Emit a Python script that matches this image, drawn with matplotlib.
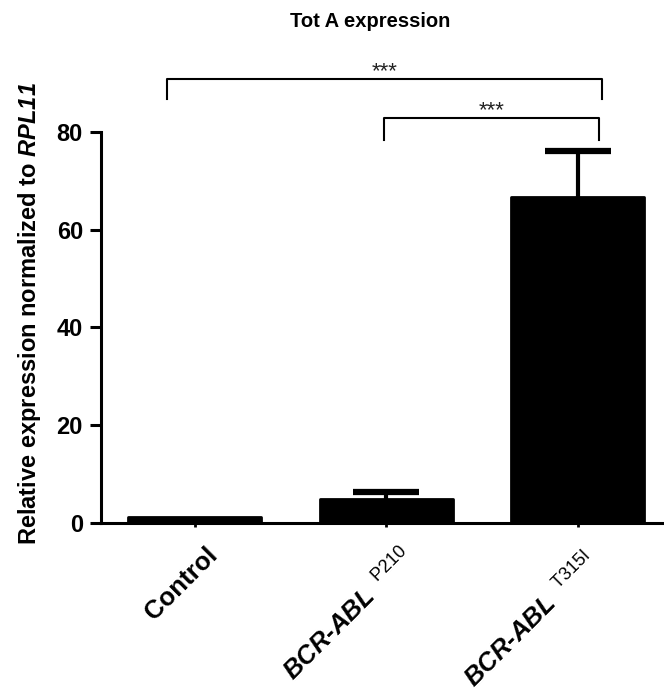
import numpy as np
import matplotlib
matplotlib.use("Agg")
from matplotlib import pyplot as plt
from matplotlib import transforms

plt.rcParams['font.family'] = ['Liberation Sans', 'DejaVu Sans']
plt.rcParams['mathtext.fontset'] = 'custom'
plt.rcParams['mathtext.sf'] = 'Liberation Sans:italic:bold'
plt.rcParams['mathtext.rm'] = 'Liberation Sans'
plt.rcParams['mathtext.bf'] = 'Liberation Sans:bold'

# data
groups = ["Control", "BCR-ABL P210", "BCR-ABL T315I"]
tick_labels = ["Control",
               r"$\mathsf{BCR}$-$\mathsf{ABL}^{\ \ \mathrm{P210}}$",
               r"$\mathsf{BCR}$-$\mathsf{ABL}^{\ \ \mathrm{T315I}}$"]
means = np.array([1.3, 5.0, 66.8])
errors = np.array([0.0, 1.3, 9.3])
yticks = [0, 20, 40, 60, 80]

# significance brackets: (x start, x end, top, drop, label)
brackets = [(-0.147, 2.126, 90.8, 86.7, "***"),
            (0.99, 2.11, 82.8, 78.3, "***")]

# pixel shifts of the rotated tick labels (right, down)
label_shift = [(24, 29), (29, 32), (21, 37)]

fig = plt.figure(figsize=(6.64, 6.94), dpi=100)
ax = fig.add_axes([0.1521, 0.2464, 0.85, 0.5634])

x = np.arange(len(groups))
ax.bar(x, means, width=0.695, color="black", edgecolor="black",
       linewidth=2, joinstyle="round", zorder=2)
has_err = errors > 0
eb = ax.errorbar(x[has_err], means[has_err],
                 yerr=[np.zeros(has_err.sum()), errors[has_err]], fmt="none",
                 ecolor="black", elinewidth=3, capsize=24, capthick=4.5,
                 zorder=3)
# only the upper whisker, like the original
eb[1][0].set_visible(False)

ax.set_xlim(-0.49, 2.458)
ax.set_ylim(0, 80)
ax.set_yticks(yticks)
ax.set_xticks(x)
ax.set_xticklabels(tick_labels, rotation=45, ha="right", va="baseline",
                   rotation_mode="anchor", fontsize=18.5, fontweight="bold")
ax.tick_params(axis="y", labelsize=17, width=2.2, length=8, pad=5)
ax.tick_params(axis="x", width=2, length=3, pad=0)
for lab in ax.get_yticklabels():
    lab.set_fontweight("bold")
for lab, (dx, dy) in zip(ax.get_xticklabels(), label_shift):
    off = transforms.ScaledTranslation(dx / 100, -dy / 100,
                                       fig.dpi_scale_trans)
    lab.set_transform(lab.get_transform() + off)

for side in ["top", "right"]:
    ax.spines[side].set_visible(False)
ax.spines["left"].set_linewidth(2.2)
ax.spines["bottom"].set_linewidth(2.2)

ax.set_ylabel(r"Relative expression normalized to $\mathsf{RPL11}$",
              fontsize=17, fontweight="bold")
ax.yaxis.set_label_coords(-0.103, 0.535)

for x0, x1, top, drop, lab in brackets:
    ax.plot([x0, x0, x1, x1], [drop, top, top, drop], color="black",
            linewidth=1.5, clip_on=False)
    ax.text((x0 + x1) / 2, top + 0.4, lab, ha="center", va="baseline",
            fontsize=16, color="#222222")

fig.text(0.557, 1 - 27 / 694, "Tot A expression", ha="center",
         va="baseline", fontsize=14.5, fontweight="bold")

fig.savefig("out.png", dpi=100)
